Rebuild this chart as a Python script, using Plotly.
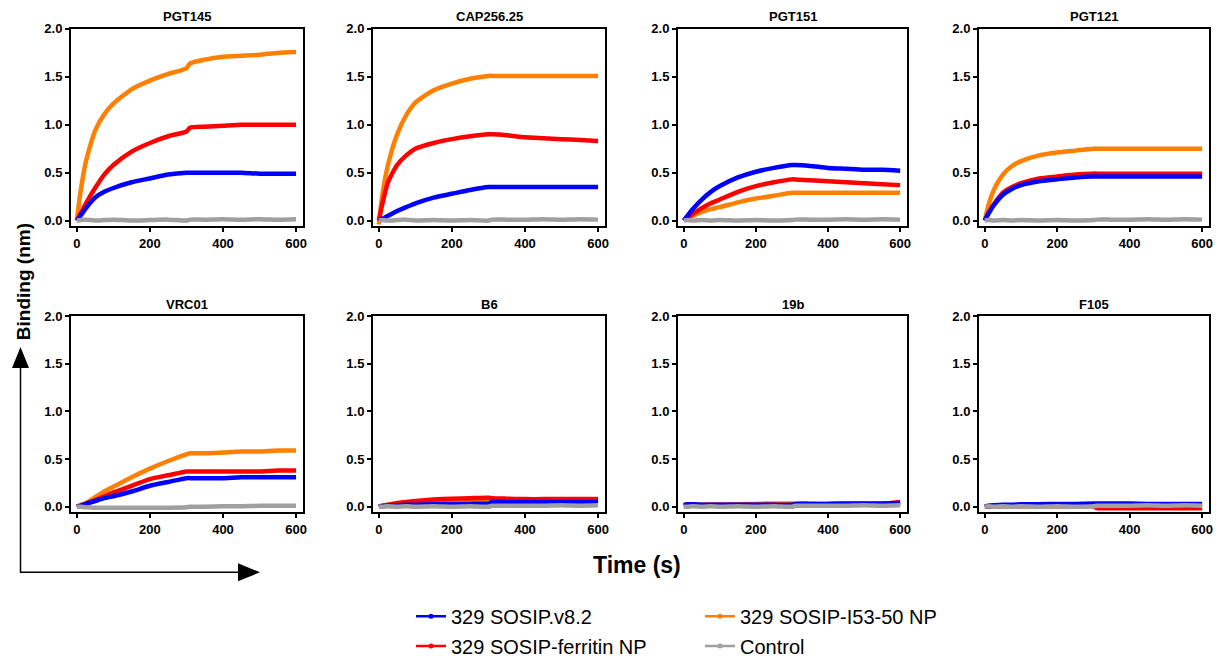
import plotly.graph_objects as go

W, H = 1221, 658
OFF = 8  # page body margin offset

# ---------------- data ----------------
time_s = [0, 10, 25, 50, 75, 100, 150, 200, 250, 300, 310, 350, 400, 450, 500, 550, 600]

antibodies = ["PGT145", "CAP256.25", "PGT151", "PGT121", "VRC01", "B6", "19b", "F105"]

series_names = ["329 SOSIP.v8.2", "329 SOSIP-ferritin NP", "329 SOSIP-I53-50 NP", "Control"]
series_colors = ["#0000FF", "#FF0000", "#FF8000", "#A0A0A0"]

# binding (nm) per antibody, per series
pgt145_v82 = [0, 0.05, 0.13, 0.24, 0.30, 0.34, 0.40, 0.44, 0.48, 0.50, 0.50, 0.50, 0.50, 0.50, 0.49, 0.49, 0.49]
pgt145_fer = [0, 0.07, 0.18, 0.34, 0.48, 0.58, 0.72, 0.81, 0.88, 0.93, 0.97, 0.98, 0.99, 1.00, 1.00, 1.00, 1.00]
pgt145_i53 = [0, 0.30, 0.62, 0.94, 1.11, 1.22, 1.37, 1.46, 1.53, 1.59, 1.64, 1.68, 1.71, 1.72, 1.73, 1.75, 1.76]
pgt145_ctl = [0, 0.005, 0.01, 0.0, 0.005, 0.01, 0.0, 0.005, 0.01, 0.0, 0.01, 0.01, 0.015, 0.01, 0.015, 0.01, 0.015]

cap256_v82 = [0, 0.02, 0.05, 0.10, 0.14, 0.18, 0.24, 0.28, 0.32, 0.35, 0.35, 0.35, 0.35, 0.35, 0.35, 0.35, 0.35]
cap256_fer = [0, 0.18, 0.40, 0.58, 0.68, 0.75, 0.81, 0.85, 0.88, 0.90, 0.90, 0.89, 0.87, 0.86, 0.85, 0.84, 0.83]
cap256_i53 = [-0.04, 0.28, 0.58, 0.90, 1.10, 1.23, 1.36, 1.43, 1.48, 1.51, 1.51, 1.51, 1.51, 1.51, 1.51, 1.51, 1.51]
cap256_ctl = [0, 0.005, 0.0, 0.005, 0.01, 0.0, 0.005, 0.0, 0.005, 0.0, 0.01, 0.01, 0.01, 0.015, 0.01, 0.015, 0.01]

pgt151_v82 = [0, 0.05, 0.12, 0.22, 0.30, 0.36, 0.45, 0.51, 0.55, 0.58, 0.58, 0.57, 0.55, 0.54, 0.53, 0.53, 0.52]
pgt151_fer = [0, 0.03, 0.07, 0.13, 0.18, 0.22, 0.30, 0.36, 0.40, 0.43, 0.43, 0.42, 0.41, 0.40, 0.39, 0.38, 0.37]
pgt151_i53 = [0, 0.03, 0.05, 0.09, 0.12, 0.14, 0.19, 0.23, 0.26, 0.29, 0.29, 0.29, 0.29, 0.29, 0.29, 0.29, 0.29]
pgt151_ctl = [0, 0.005, 0.0, 0.005, 0.0, 0.005, 0.0, 0.005, 0.0, 0.005, 0.01, 0.01, 0.01, 0.015, 0.01, 0.015, 0.01]

pgt121_v82 = [0, 0.07, 0.16, 0.27, 0.33, 0.37, 0.41, 0.43, 0.45, 0.46, 0.46, 0.46, 0.46, 0.46, 0.46, 0.46, 0.46]
pgt121_fer = [0, 0.08, 0.17, 0.29, 0.35, 0.39, 0.44, 0.46, 0.48, 0.49, 0.49, 0.49, 0.49, 0.49, 0.49, 0.49, 0.49]
pgt121_i53 = [0, 0.16, 0.32, 0.48, 0.57, 0.62, 0.68, 0.71, 0.73, 0.75, 0.75, 0.75, 0.75, 0.75, 0.75, 0.75, 0.75]
pgt121_ctl = [0, 0.005, 0.0, 0.005, 0.0, 0.005, 0.0, 0.005, 0.0, 0.005, 0.01, 0.01, 0.01, 0.015, 0.01, 0.015, 0.01]

vrc01_v82 = [0, 0.01, 0.03, 0.06, 0.09, 0.11, 0.16, 0.22, 0.26, 0.30, 0.30, 0.30, 0.30, 0.31, 0.31, 0.31, 0.31]
vrc01_fer = [0, 0.01, 0.03, 0.07, 0.11, 0.15, 0.22, 0.29, 0.33, 0.37, 0.37, 0.37, 0.37, 0.37, 0.37, 0.38, 0.38]
vrc01_i53 = [0, 0.02, 0.04, 0.10, 0.16, 0.21, 0.31, 0.40, 0.48, 0.55, 0.56, 0.56, 0.57, 0.58, 0.58, 0.59, 0.59]
vrc01_ctl = [0, 0.0, -0.005, -0.01, -0.01, -0.01, -0.01, -0.01, -0.01, -0.005, 0.0, 0.0, 0.005, 0.005, 0.01, 0.01, 0.01]

b6_v82 = [0, 0.005, 0.01, 0.015, 0.02, 0.02, 0.025, 0.03, 0.03, 0.035, 0.05, 0.05, 0.05, 0.05, 0.05, 0.05, 0.05]
b6_fer = [0, 0.01, 0.02, 0.04, 0.05, 0.06, 0.075, 0.085, 0.09, 0.095, 0.09, 0.085, 0.08, 0.08, 0.08, 0.08, 0.08]
b6_i53 = [0, 0.01, 0.02, 0.03, 0.04, 0.045, 0.055, 0.06, 0.065, 0.07, 0.065, 0.06, 0.06, 0.06, 0.06, 0.06, 0.06]
b6_ctl = [0, 0.0, 0.005, 0.0, 0.005, 0.0, 0.005, 0.0, 0.005, 0.0, 0.01, 0.01, 0.01, 0.01, 0.015, 0.01, 0.015]

b19_v82 = [0.02, 0.025, 0.025, 0.02, 0.02, 0.02, 0.02, 0.02, 0.02, 0.02, 0.03, 0.03, 0.03, 0.035, 0.035, 0.035, 0.04]
b19_fer = [0.01, 0.02, 0.02, 0.02, 0.02, 0.02, 0.02, 0.02, 0.02, 0.02, 0.02, 0.02, 0.03, 0.03, 0.03, 0.03, 0.05]
b19_i53 = [0.01, 0.01, 0.015, 0.015, 0.02, 0.02, 0.025, 0.03, 0.035, 0.035, 0.035, 0.035, 0.03, 0.03, 0.03, 0.03, 0.03]
b19_ctl = [0, 0.0, 0.005, 0.0, 0.005, 0.0, 0.005, 0.0, 0.005, 0.0, 0.01, 0.01, 0.01, 0.01, 0.015, 0.01, 0.015]

f105_v82 = [0.0, 0.01, 0.015, 0.02, 0.02, 0.025, 0.025, 0.03, 0.03, 0.035, 0.035, 0.035, 0.035, 0.03, 0.03, 0.03, 0.03]
f105_fer = [0.0, 0.0, 0.0, 0.005, 0.005, 0.005, 0.005, 0.005, 0.005, 0.005, -0.015, -0.015, -0.015, -0.015, -0.015, -0.015, -0.015]
f105_i53 = [0.0, 0.005, 0.005, 0.01, 0.01, 0.01, 0.01, 0.015, 0.015, 0.015, 0.015, 0.015, 0.015, 0.015, 0.015, 0.015, 0.015]
f105_ctl = [0, 0.005, 0.0, 0.005, 0.0, 0.005, 0.0, 0.005, 0.0, 0.005, 0.01, 0.01, 0.01, 0.015, 0.01, 0.015, 0.01]

panel_data = [
    [pgt145_v82, pgt145_fer, pgt145_i53, pgt145_ctl],
    [cap256_v82, cap256_fer, cap256_i53, cap256_ctl],
    [pgt151_v82, pgt151_fer, pgt151_i53, pgt151_ctl],
    [pgt121_v82, pgt121_fer, pgt121_i53, pgt121_ctl],
    [vrc01_v82, vrc01_fer, vrc01_i53, vrc01_ctl],
    [b6_v82, b6_fer, b6_i53, b6_ctl],
    [b19_v82, b19_fer, b19_i53, b19_ctl],
    [f105_v82, f105_fer, f105_i53, f105_ctl],
]

x_ticks = [0, 200, 400, 600]
y_ticks = [0.0, 0.5, 1.0, 1.5, 2.0]
y_tick_text = ["0.0", "0.5", "1.0", "1.5", "2.0"]

# ---------------- layout helpers ----------------
def px_x(p):
    return (p - OFF) / W

def px_y(p):
    return 1 - (p - OFF) / H

col_px = [(71, 303), (373, 605), (678, 907), (979, 1209)]
row_px = [(29, 227), (317, 514)]

fig = go.Figure()

draw_order = [2, 1, 0, 3]  # orange, red, blue, grey (grey on top)
for i, name in enumerate(antibodies):
    r, c = divmod(i, 4)
    ax = "" if i == 0 else str(i + 1)
    for s in draw_order:
        fig.add_trace(go.Scatter(
            x=time_s, y=panel_data[i][s], mode="lines",
            line=dict(color=series_colors[s], width=4.5, shape="spline", smoothing=0.6),
            showlegend=False, hoverinfo="skip",
            xaxis="x" + ax, yaxis="y" + ax,
        ))
    x0, x1 = col_px[c]
    y0, y1 = row_px[r]
    axis_common = dict(showline=True, linecolor="black", linewidth=2, mirror=True,
                       ticks="outside", ticklen=4, tickwidth=2, tickcolor="black",
                       showgrid=False, zeroline=False, automargin=False,
                       tickfont=dict(family="Arial", size=13, color="black", weight="bold"))
    fig.layout["xaxis" + ax] = dict(domain=[px_x(x0), px_x(x1)], anchor="y" + ax,
                                    range=[-16, 619], tickvals=x_ticks, **axis_common)
    fig.layout["yaxis" + ax] = dict(domain=[px_y(y1), px_y(y0)], anchor="x" + ax,
                                    range=[-0.06, 2.0], tickvals=y_ticks, ticktext=y_tick_text,
                                    **axis_common)
    fig.add_annotation(text="<b>" + name + "</b>", xref="paper", yref="paper",
                       x=px_x((x0 + x1) / 2), y=px_y(y0 - 12), xanchor="center", yanchor="middle",
                       showarrow=False, font=dict(family="Arial", size=13, color="black"))

# legends (one per entry, to place each precisely)
legend_pos = [(411, 618), (411, 648), (700, 618), (700, 648)]
legend_keys = ["legend", "legend2", "legend3", "legend4"]
for s in range(4):
    fig.add_trace(go.Scatter(
        x=[None], y=[None], mode="lines+markers", name=series_names[s],
        line=dict(color=series_colors[s], width=2.5),
        marker=dict(color=series_colors[s], size=5),
        legend=legend_keys[s], showlegend=True,
    ))
    lx, ly = legend_pos[s]
    fig.layout[legend_keys[s]] = dict(x=px_x(lx), y=px_y(ly), xanchor="left", yanchor="middle",
                                      font=dict(family="Arial", size=20, color="black"),
                                      bgcolor="rgba(0,0,0,0)", itemwidth=30)

# axis titles
fig.add_annotation(text="<b>Binding (nm)</b>", xref="paper", yref="paper",
                   x=px_x(23), y=px_y(283), textangle=-90, showarrow=False,
                   xanchor="center", yanchor="middle",
                   font=dict(family="Arial", size=19, color="black"))
fig.add_annotation(text="<b>Time (s)</b>", xref="paper", yref="paper",
                   x=px_x(637), y=px_y(567), showarrow=False,
                   xanchor="center", yanchor="middle",
                   font=dict(family="Arial", size=23, color="black"))

# arrows
shapes = [
    dict(type="line", xref="paper", yref="paper", x0=px_x(20.5), y0=px_y(574), x1=px_x(20.5), y1=px_y(366),
         line=dict(color="black", width=1.5)),
    dict(type="path", xref="paper", yref="paper",
         path=f"M {px_x(12)},{px_y(369)} L {px_x(29)},{px_y(369)} L {px_x(20.5)},{px_y(348)} Z",
         fillcolor="black", line=dict(color="black", width=0)),
    dict(type="line", xref="paper", yref="paper", x0=px_x(20), y0=px_y(574), x1=px_x(240), y1=px_y(574),
         line=dict(color="black", width=1.5)),
    dict(type="path", xref="paper", yref="paper",
         path=f"M {px_x(238)},{px_y(565)} L {px_x(238)},{px_y(583)} L {px_x(260)},{px_y(574)} Z",
         fillcolor="black", line=dict(color="black", width=0)),
]

fig.update_layout(width=W, height=H, margin=dict(l=0, r=0, t=0, b=0),
                  plot_bgcolor="white", paper_bgcolor="white", shapes=shapes,
                  font=dict(family="Arial", color="black"))

fig.write_html("out.html")
